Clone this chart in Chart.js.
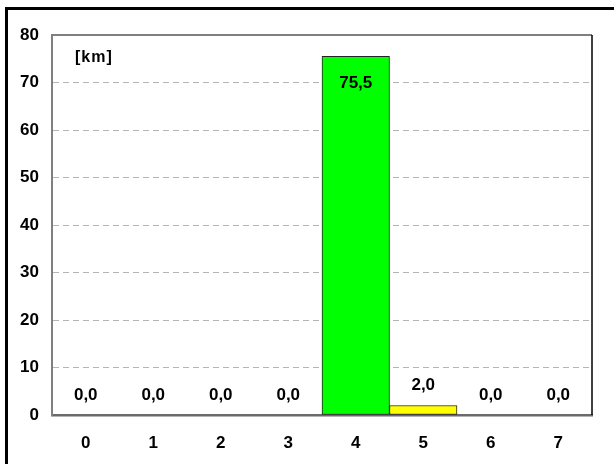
<!DOCTYPE html>
<html>
<head>
<meta charset="utf-8">
<script src="https://cdn.jsdelivr.net/npm/chart.js@4"></script>
<style>
  html, body { margin: 0; padding: 0; background: #fff; }
  #wrap { position: relative; width: 614px; height: 464px; }
  #frame { position: absolute; left: 5px; top: 7px; right: 0; bottom: 0;
           border-left: 3px solid #000; border-top: 3px solid #000; pointer-events: none; }
  canvas { position: absolute; left: 0; top: 0; }
</style>
</head>
<body>
<div id="wrap">
  <canvas id="chart" width="614" height="464"></canvas>
  <div id="frame"></div>
</div>
<script>
const categories = ['0', '1', '2', '3', '4', '5', '6', '7'];
const distances = [0, 0, 0, 0, 75.5, 2.0, 0, 0];
const barColors = ['#00ff00', '#00ff00', '#00ff00', '#00ff00', '#00ff00', '#ffff00', '#00ff00', '#00ff00'];
const unitLabel = '[km]';
const yMin = 0, yMax = 80, yStep = 10;

const FONT = '"Liberation Sans", Arial, sans-serif';

// value labels (comma decimals) above bars, or inside when near the top
const valueLabels = {
  id: 'valueLabels',
  afterDatasetsDraw(chart) {
    const ctx = chart.ctx;
    const meta = chart.getDatasetMeta(0);
    ctx.save();
    ctx.font = 'bold 17px ' + FONT;
    ctx.fillStyle = '#000';
    ctx.textAlign = 'center';
    ctx.textBaseline = 'middle';
    meta.data.forEach((bar, i) => {
      const v = distances[i];
      const txt = v.toFixed(1).replace('.', ',');
      let y = bar.y - 20;
      if (y < chart.chartArea.top + 20) y = bar.y + 27;
      ctx.fillText(txt, bar.x, y);
    });
    ctx.restore();
  }
};

// plot box top/right edges and unit text
const plotBox = {
  id: 'plotBox',
  afterDraw(chart) {
    const { ctx, chartArea: a } = chart;
    ctx.save();
    ctx.strokeStyle = '#808080';
    ctx.lineWidth = 2;
    ctx.beginPath();
    ctx.moveTo(a.left, a.top);
    ctx.lineTo(a.right, a.top);
    ctx.stroke();
    ctx.strokeStyle = '#000';
    ctx.lineWidth = 1.5;
    ctx.beginPath();
    ctx.moveTo(a.right, a.top);
    ctx.lineTo(a.right, a.bottom);
    ctx.stroke();
    ctx.font = 'bold 16px ' + FONT;
    ctx.letterSpacing = '1px';
    ctx.fillStyle = '#000';
    ctx.textAlign = 'left';
    ctx.textBaseline = 'middle';
    ctx.fillText(unitLabel, a.left + 23, a.top + 23);
    ctx.restore();
  }
};

new Chart(document.getElementById('chart'), {
  type: 'bar',
  data: {
    labels: categories,
    datasets: [{
      data: distances,
      backgroundColor: c => (distances[c.dataIndex] > 0 ? barColors[c.dataIndex] : 'rgba(0,0,0,0)'),
      borderColor: '#222',
      borderWidth: c => (distances[c.dataIndex] > 0 ? 1 : 0),
      borderSkipped: false,
      barPercentage: 1.0,
      categoryPercentage: 1.0
    }]
  },
  options: {
    responsive: false,
    animation: false,
    layout: { padding: { left: 0, right: 22, top: 35, bottom: 0 } },
    plugins: { legend: { display: false }, tooltip: { enabled: false } },
    scales: {
      x: {
        grid: { display: false, drawTicks: false },
        border: { color: '#6a6a6a', width: 2.5 },
        ticks: { color: '#000', font: { family: FONT, size: 17, weight: 'bold' }, padding: 18 },
        afterFit: s => { s.height = 49; }
      },
      y: {
        min: yMin, max: yMax,
        grid: {
          drawTicks: false,
          color: c => (c.tick && (c.tick.value === yMin || c.tick.value === yMax) ? 'rgba(0,0,0,0)' : '#b4b4b4'),
          lineWidth: 1
        },
        border: { color: '#808080', width: 2, dash: [6, 4] },
        ticks: { stepSize: yStep, color: '#000', font: { family: FONT, size: 17, weight: 'bold' }, padding: 13 },
        afterFit: s => { s.width = 52; }
      }
    }
  },
  plugins: [valueLabels, plotBox]
});
</script>
</body>
</html>
